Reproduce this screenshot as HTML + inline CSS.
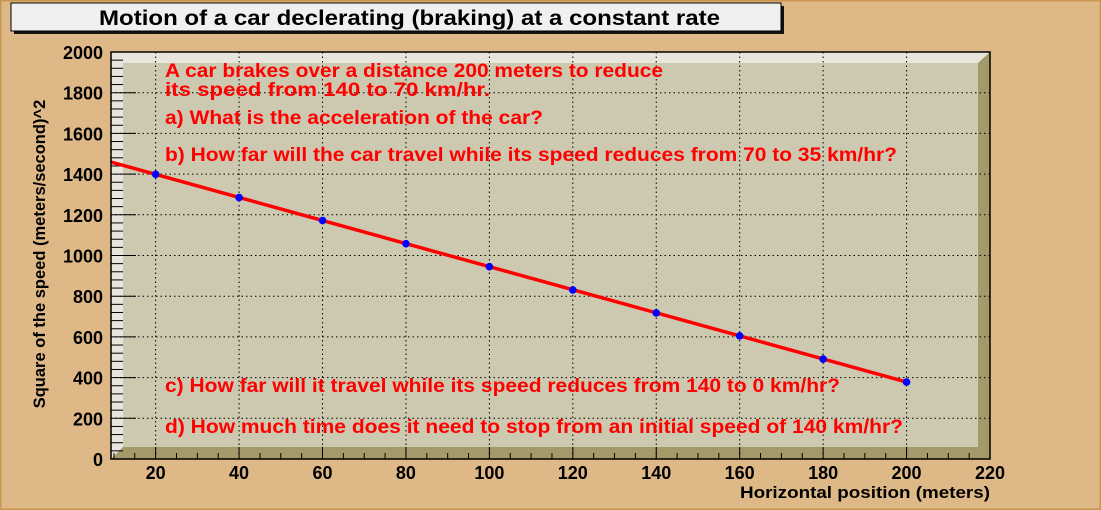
<!DOCTYPE html>
<html><head><meta charset="utf-8"><style>
body{margin:0;background:#deb887}
svg{display:block}
text{font-family:"Liberation Sans",sans-serif;font-weight:bold}
</style></head><body>
<svg width="1101" height="510" viewBox="0 0 1101 510">
<rect x="0" y="0" width="1101" height="510" fill="#deb887" stroke="#c8964e" stroke-width="3"/>
<rect x="14" y="6" width="770" height="28" fill="#000" opacity="0.9"/>
<rect x="11" y="3" width="770" height="28" fill="#f0f0f0" stroke="#000"/>
<text x="99" y="25" font-size="21" textLength="621" lengthAdjust="spacingAndGlyphs">Motion of a car declerating (braking) at a constant rate</text>
<g id="frame">
<rect x="111" y="52" width="879" height="407" fill="#e8e6dc"/>
<polygon points="123,63 978,63 990,52 990,459 111,459 123,447" fill="#a39a6a"/>
<rect x="123" y="63" width="855" height="384" fill="#cdc8b0"/>
</g>
<g id="grid"></g>
<g id="axes"></g>
<g id="series"></g>
<rect x="111" y="52" width="879" height="407" fill="none" stroke="#000" stroke-width="1.5"/>
<g fill="#ff0000" font-size="19">
<text x="165" y="77" textLength="498" lengthAdjust="spacingAndGlyphs">A car brakes over a distance 200 meters to reduce</text>
<text x="165" y="96" textLength="325" lengthAdjust="spacingAndGlyphs">its speed from 140 to 70 km/hr.</text>
<text x="165" y="124" textLength="378" lengthAdjust="spacingAndGlyphs">a) What is the acceleration of the car?</text>
<text x="165" y="161" textLength="732" lengthAdjust="spacingAndGlyphs">b) How far will the car travel while its speed reduces from 70 to 35 km/hr?</text>
<text x="165" y="392" textLength="675" lengthAdjust="spacingAndGlyphs">c) How far will it travel while its speed reduces from 140 to 0 km/hr?</text>
<text x="165" y="433" textLength="738" lengthAdjust="spacingAndGlyphs">d) How much time does it need to stop from an initial speed of 140 km/hr?</text>
</g>
<text x="990" y="498" font-size="17" textLength="250" lengthAdjust="spacingAndGlyphs" text-anchor="end">Horizontal position (meters)</text>
<text transform="translate(45,254) rotate(-90)" font-size="16.5" text-anchor="middle">Square of the speed (meters/second)^2</text>
</svg>
<script>
const xValues=[20,40,60,80,100,120,140,160,180,200];
const yValues=[1399,1285,1172,1058,945,831,718,605,491,378];
const xTicks=[20,40,60,80,100,120,140,160,180,200,220];
const yTicks=[0,200,400,600,800,1000,1200,1400,1600,1800,2000];
const fitIntercept=1512;
const fitSlope=-5.67;
const X0=9.3,X1=220,Y0=0,Y1=2000,L=111,R=990,T=52,B=459;
const sx=v=>L+(v-X0)/(X1-X0)*(R-L);
const sy=v=>B-(v-Y0)/(Y1-Y0)*(B-T);
const NS='http://www.w3.org/2000/svg';
function mk(tag,attrs,parent){const e=document.createElementNS(NS,tag);for(const k in attrs)e.setAttribute(k,attrs[k]);parent.appendChild(e);return e;}
const grid=document.getElementById('grid'),axes=document.getElementById('axes'),series=document.getElementById('series');
xTicks.forEach(t=>{const x=sx(t);
 if(t<X1){const g=mk('line',{x1:x,x2:x,y1:T,y2:B,stroke:'#000','stroke-dasharray':'1.5 3','stroke-width':1},grid);
 }
 const tk=mk('line',{x1:x,x2:x,y1:B,y2:B-12,stroke:'#000'},axes);
 
 const lb=mk('text',{x:x,y:B+20,'font-size':18,'text-anchor':'middle'},axes);lb.textContent=t;
 });
for(let v=0;v<=X1;v+=5){if(v%20===0||v<X0)continue;const x=sx(v);
 const m=mk('line',{x1:x,x2:x,y1:B,y2:B-6,stroke:'#000'},axes);
 }
yTicks.forEach(t=>{const y=sy(t);
 if(t>Y0&&t<Y1){const g=mk('line',{x1:L,x2:R,y1:y,y2:y,stroke:'#000','stroke-dasharray':'1.5 3','stroke-width':1},grid);
 }
 const tk=mk('line',{x1:L,x2:L+25,y1:y,y2:y,stroke:'#000'},axes);
 
 const lb=mk('text',{x:L-8,y:y+7,'font-size':18,'text-anchor':'end'},axes);lb.textContent=t;
 });
for(let v=0;v<=Y1;v+=40){if(v%200===0)continue;const y=sy(v);
 const m=mk('line',{x1:L,x2:L+12,y1:y,y2:y,stroke:'#000'},axes);
 }
const fit=mk('line',{x1:sx(X0),y1:sy(fitIntercept+fitSlope*X0),x2:sx(xValues[xValues.length-1]),y2:sy(fitIntercept+fitSlope*xValues[xValues.length-1]),stroke:'#ff0000','stroke-width':3.5},series);


xValues.forEach((xv,i)=>{const c=mk('circle',{cx:sx(xv),cy:sy(yValues[i]),r:3.8,fill:'#0000ff'},series);
 
 });
</script>
</body></html>
